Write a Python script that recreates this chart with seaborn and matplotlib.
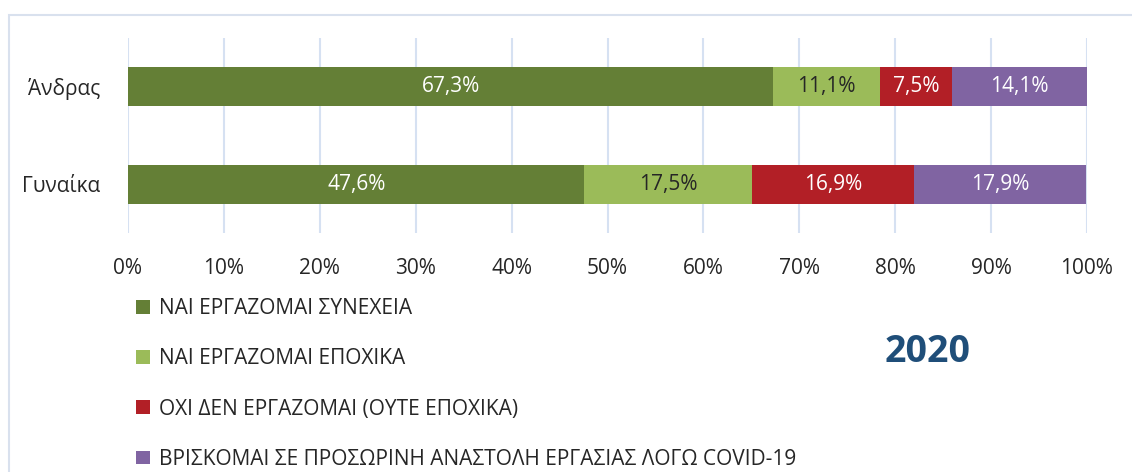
import numpy as np
import pandas as pd
import seaborn as sns
import matplotlib.pyplot as plt
from matplotlib.patches import Patch, Rectangle

categories = ['Άνδρας', 'Γυναίκα']
series_names = ['ΝΑΙ ΕΡΓΑΖΟΜΑΙ ΣΥΝΕΧΕΙΑ',
                'ΝΑΙ ΕΡΓΑΖΟΜΑΙ ΕΠΟΧΙΚΑ',
                'ΟΧΙ ΔΕΝ ΕΡΓΑΖΟΜΑΙ (ΟΥΤΕ ΕΠΟΧΙΚΑ)',
                'ΒΡΙΣΚΟΜΑΙ ΣΕ ΠΡΟΣΩΡΙΝΗ ΑΝΑΣΤΟΛΗ ΕΡΓΑΣΙΑΣ ΛΟΓΩ COVID-19']
continuous = [67.3, 47.6]
seasonal = [11.1, 17.5]
not_working = [7.5, 16.9]
suspended = [14.1, 17.9]
colors = ['#647F36', '#9BBB59', '#B21F26', '#8064A2']
label_colors = ['white', '#262626', 'white', 'white']
year = '2020'


def main():
    sns.set_theme(style='white')
    plt.rcParams['font.family'] = ['Open Sans', 'DejaVu Sans']
    values = [continuous, seasonal, not_working, suspended]
    data = pd.DataFrame({'Φύλο': categories})
    for name, v in zip(series_names, values):
        data[name] = v
    cum = data[series_names].cumsum(axis=1)

    fig = plt.figure(figsize=(11.32, 4.72), dpi=100)
    ax = fig.add_axes([128 / 1132, 1 - 233 / 472, (1087 - 128) / 1132, (233 - 38) / 472])

    # stacked bars: draw cumulative totals, biggest first
    for i in reversed(range(len(series_names))):
        sns.barplot(x=cum[series_names[i]], y=data['Φύλο'], orient='h', linewidth=0,
                    color=colors[i], width=0.4, saturation=1, ax=ax, zorder=2)

    for i, name in enumerate(series_names):
        left = cum[name] - data[name]
        for j in range(len(categories)):
            ax.text(left[j] + data[name][j] / 2, j, f'{data[name][j]:.1f}%'.replace('.', ','),
                    ha='center', va='center', color=label_colors[i], fontsize=15, zorder=3)

    ax.set_xlim(0, 100)
    ax.set_ylim(1.5, -0.5)
    ax.set_xticks(np.arange(0, 101, 10))
    ax.set_xticklabels([f'{t}%' for t in range(0, 101, 10)])
    ax.xaxis.grid(True, color='#D6E1F2', lw=1.5, zorder=0)
    ax.set_axisbelow(True)
    ax.tick_params(axis='both', labelsize=15, colors='#262626', length=0)
    ax.tick_params(axis='x', pad=18)
    ax.tick_params(axis='y', pad=20)
    ax.set_xlabel('')
    ax.set_ylabel('')
    for s in ax.spines.values():
        s.set_visible(False)

    handles = [Patch(facecolor=c, edgecolor='none') for c in colors]
    fig.legend(handles, series_names, loc='upper left', bbox_to_anchor=(128 / 1132, 1 - 290 / 472),
               frameon=False, fontsize=15, labelspacing=1.4, handlelength=0.65, handleheight=0.65,
               handletextpad=0.45, labelcolor='#262626', borderaxespad=0)

    fig.text(928 / 1132, 1 - 352 / 472, year, ha='center', va='center', fontsize=27,
             fontweight='bold', color='#1F4E79')

    fig.patches.append(Rectangle((9 / 1132, -0.1), 1.2, 1 - 15 / 472 + 0.1, transform=fig.transFigure,
                                 fill=False, edgecolor='#D9E1EE', lw=1.5))

    fig.savefig('out.png', dpi=100)


if __name__ == '__main__':
    main()
